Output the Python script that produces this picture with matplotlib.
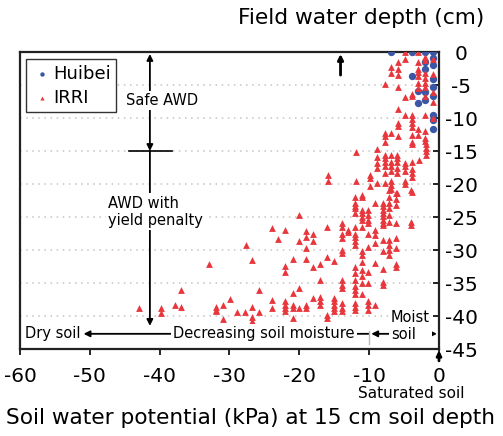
import numpy as np
import matplotlib
matplotlib.use("Agg")
import matplotlib.pyplot as plt

plt.rcParams['axes.unicode_minus'] = False

# Huibei field data (soil water potential kPa, field water depth cm)
huibei_x = [-6.9, -3.8, -2.0, -0.9, -0.9, -2.0, -0.9, -2.0, -3.8, -0.9,
            -0.9, -3.0, -2.0, -0.9, -2.0, -3.0, -0.9, -0.9, -0.9]
huibei_y = [0.0, 0.0, 0.0, 0.0, -0.9, -1.5, -2.0, -2.6, -3.6, -4.1,
            -5.3, -5.9, -6.0, -6.6, -7.2, -7.7, -9.5, -10.3, -11.6]

# IRRI data
irri_pts = [
    # shallow water, moist soil
    (-4.9, 0), (-4.9, -1.0), (-3.0, 0), (-2.0, -0.7), (-2.0, -1.2), (-0.9, -1.0),
    (-5.9, -1.5), (-6.9, -2.3), (-5.9, -2.5), (-6.9, -3.2), (-5.9, -3.5), (-3.0, -1.5),
    (-3.0, -2.5), (-3.0, -3.0), (-2.0, -3.2), (-2.0, -4.0), (-3.0, -3.7), (-0.9, -3.3),
    (-7.8, -4.8), (-5.9, -5.3), (-3.0, -4.7), (-2.0, -4.7), (-2.0, -5.3), (-4.9, -6.8),
    (-3.8, -6.3), (-3.8, -6.6), (-3.0, -5.4), (-0.9, -6.0), (-0.9, -7.5), (-2.0, -6.6),
    (-5.9, -8.7), (-4.9, -9.6), (-3.8, -9.5), (-3.8, -10.1), (-2.0, -9.5), (-0.9, -10.0),
    (-5.9, -10.8), (-5.9, -11.2), (-3.8, -10.8), (-3.8, -11.3), (-3.0, -11.6), (-7.8, -12.3),
    (-7.8, -12.8), (-6.9, -12.3), (-5.9, -12.7), (-3.8, -12.6), (-3.0, -12.6), (-2.0, -12.0),
    (-7.8, -13.6), (-3.8, -13.6), (-3.8, -14.0), (-2.0, -13.0), (-2.0, -13.5),
    # -14 to -21 cm
    (-15.9, -18.6), (-15.9, -19.5), (-11.9, -15.2), (-11.9, -19.5), (-9.9, -18.6),
    (-9.9, -19.1), (-9.9, -20.3), (-8.9, -14.7), (-8.9, -15.9), (-8.9, -16.8), (-8.9, -17.6),
    (-8.9, -19.9), (-7.8, -15.6), (-7.8, -16.1), (-7.8, -16.6), (-7.8, -17.3), (-7.8, -18.3),
    (-7.8, -19.8), (-6.9, -15.6), (-6.9, -16.6), (-6.9, -17.3), (-6.9, -18.1), (-6.9, -19.6),
    (-6.9, -20.2), (-6.9, -20.7), (-6.0, -15.6), (-6.0, -16.1), (-6.0, -16.6), (-6.0, -17.6),
    (-6.0, -18.4), (-6.0, -21.4), (-4.9, -16.8), (-4.9, -17.3), (-4.9, -18.1), (-4.9, -19.5),
    (-4.9, -20.0), (-3.8, -16.6), (-3.8, -17.8), (-3.8, -18.3), (-3.8, -18.9), (-3.8, -21.2),
    (-2.9, -16.3), (-1.9, -14.0), (-1.9, -14.5), (-1.9, -15.0), (-1.9, -15.6),
    # -21 to -41 cm
    (-20.0, -24.7), (-23.9, -26.6), (-22.1, -26.9), (-23.0, -28.4), (-20.0, -28.6),
    (-19.0, -27.1), (-19.0, -28.0), (-19.0, -29.7), (-19.0, -31.3), (-18.1, -27.5),
    (-18.1, -28.7), (-16.1, -26.5), (-20.9, -31.4), (-22.1, -32.4), (-22.1, -33.3),
    (-18.1, -32.5), (-17.1, -32.1), (-16.1, -31.1), (-15.0, -31.6), (-17.1, -34.6),
    (-20.9, -36.5), (-20.0, -35.8), (-23.9, -37.6), (-23.9, -38.8), (-22.1, -37.8),
    (-22.1, -38.3), (-22.1, -38.8), (-22.1, -39.3), (-20.9, -38.3), (-20.9, -38.8),
    (-20.9, -40.3), (-20.0, -38.8), (-19.0, -38.3), (-19.0, -38.8), (-18.1, -37.2),
    (-17.1, -37.1), (-17.1, -37.8), (-17.1, -38.3), (-16.1, -39.8), (-16.1, -40.3),
    (-15.0, -37.3), (-15.0, -37.8), (-15.0, -38.3), (-15.0, -38.8), (-15.0, -39.3),
    (-13.9, -38.1), (-13.9, -38.8), (-13.9, -39.3), (-13.9, -25.9), (-13.9, -26.5),
    (-13.9, -27.5), (-13.9, -28.2), (-13.0, -26.9), (-13.0, -27.2), (-13.9, -30.0),
    (-13.9, -30.5), (-13.9, -34.5), (-13.9, -35.3), (-13.9, -35.8), (-12.1, -21.9),
    (-12.1, -22.9), (-12.1, -23.4), (-12.1, -23.7), (-12.1, -24.4), (-12.1, -26.5),
    (-12.1, -27.5), (-12.1, -28.0), (-12.1, -28.7), (-12.1, -29.2), (-12.1, -32.5),
    (-12.1, -33.5), (-12.1, -34.5), (-12.1, -35.5), (-12.1, -36.0), (-12.1, -36.6),
    (-12.1, -38.1), (-12.1, -38.6), (-12.1, -39.1), (-11.0, -21.7), (-11.0, -21.9),
    (-11.0, -23.9), (-11.0, -24.4), (-11.0, -26.5), (-11.0, -30.2), (-11.0, -30.7),
    (-11.0, -31.8), (-11.0, -33.0), (-11.0, -34.0), (-11.0, -35.0), (-11.0, -36.7),
    (-10.1, -23.9), (-10.1, -24.7), (-10.1, -25.4), (-10.1, -25.9), (-10.1, -27.5),
    (-10.1, -29.5), (-10.1, -33.3), (-10.1, -35.0), (-10.1, -37.8), (-10.1, -38.3),
    (-10.1, -39.1), (-9.1, -22.9), (-9.1, -26.9), (-9.1, -27.7), (-9.1, -29.0),
    (-9.1, -32.0), (-9.1, -38.3), (-8.0, -22.9), (-8.0, -23.4), (-8.0, -23.9),
    (-8.0, -24.4), (-8.0, -24.9), (-8.0, -25.4), (-8.0, -25.9), (-8.0, -26.2),
    (-8.0, -28.5), (-8.0, -30.2), (-8.0, -32.9), (-8.0, -34.8), (-8.0, -35.3),
    (-7.1, -20.9), (-7.1, -21.9), (-7.1, -22.9), (-7.1, -23.7), (-7.1, -24.7),
    (-7.1, -25.7), (-7.1, -28.5), (-7.1, -29.2), (-7.1, -30.0), (-7.1, -30.8),
    (-6.1, -21.4), (-6.1, -22.2), (-6.1, -23.2), (-6.1, -25.9), (-6.1, -28.2),
    (-6.1, -29.7), (-6.1, -32.1), (-6.1, -32.6), (-4.0, -20.9), (-4.0, -25.7),
    (-4.0, -26.2), (-11.0, -25.0), (-11.0, -25.5),
    # dry soil
    (-27.7, -29.3), (-32.9, -32.1), (-26.8, -31.5), (-36.9, -36.1), (-25.8, -36.1),
    (-29.9, -37.4), (-42.9, -38.8), (-39.8, -38.8), (-39.8, -39.5), (-37.8, -38.4),
    (-36.9, -38.7), (-31.9, -38.7), (-31.9, -39.1), (-31.9, -39.3), (-30.9, -38.3),
    (-30.9, -40.4), (-28.9, -39.4), (-27.8, -39.4), (-26.8, -38.7), (-26.8, -40.1),
    (-26.8, -40.8), (-25.8, -39.4),
]
irri_x = [p[0] for p in irri_pts]
irri_y = [p[1] for p in irri_pts]

xticks = [-60, -50, -40, -30, -20, -10, 0]
yticks = [0, -5, -10, -15, -20, -25, -30, -35, -40, -45]

fig = plt.figure(figsize=(5.03, 4.36), dpi=100)
ax = fig.add_axes([20 / 503, 1 - 349 / 436, 419 / 503, 297 / 436])

ax.scatter(huibei_x, huibei_y, s=28, marker='o', color='#3a56a5', linewidths=0,
           label='Huibei', zorder=3)
ax.scatter(irri_x, irri_y, s=24, marker='^', color='#e8373c', linewidths=0,
           label='IRRI', zorder=3)

ax.set_xlim(-60, 0)
ax.set_ylim(-45, 0)
ax.set_xticks(xticks)
ax.set_yticks(yticks)
ax.yaxis.tick_right()
ax.tick_params(axis='x', direction='out', length=4, width=1.2, labelsize=14.5, pad=9)
ax.tick_params(axis='y', direction='in', length=4, width=1.2, labelsize=14.5, pad=16)
plt.setp(ax.get_yticklabels(), ha='center')
ax.grid(axis='y', color='#c4c4c4', linestyle=(0, (1, 3)), linewidth=1.1, zorder=0)
for s in ax.spines.values():
    s.set_linewidth(1.6)
    s.set_color('#222222')

ax.set_xlabel('Soil water potential (kPa) at 15 cm soil depth', fontsize=15.6, va='center')
ax.xaxis.set_label_coords(0.551, -0.232)
ax.yaxis.set_label_position('right')
ax.set_ylabel('Field water depth (cm)', fontsize=15.7, rotation=0, ha='center', va='center')
ax.yaxis.set_label_coords(0.814, 1.114)

leg = ax.legend(loc='upper left', bbox_to_anchor=(0.0143, 0.976), borderaxespad=0,
                fontsize=13, markerscale=0.6, fancybox=False, framealpha=1,
                edgecolor='#333333', handletextpad=0.0, labelspacing=0.35,
                borderpad=0.3, handlelength=1.2)
leg.get_frame().set_linewidth(1.0)

arr = dict(arrowstyle='-|>', color='black', lw=1.3, mutation_scale=9, shrinkA=0, shrinkB=0)
arr2 = dict(arrowstyle='<|-|>', color='black', lw=1.3, mutation_scale=9, shrinkA=0, shrinkB=0)
white = dict(facecolor='white', edgecolor='none', pad=1.5)

# safe AWD
ax.annotate('', xy=(-41.4, -0.3), xytext=(-41.4, -15), arrowprops=arr2, zorder=4)
ax.plot([-44.4, -38.3], [-15, -15], color='black', lw=1.2, zorder=4)
ax.text(-39.6, -7.3, 'Safe AWD', fontsize=10.5, ha='center', va='center', bbox=white, zorder=5)
# AWD with yield penalty
ax.annotate('', xy=(-41.4, -41.5), xytext=(-41.4, -15), arrowprops=arr, zorder=4)
ax.text(-47.4, -24.2, 'AWD with\nyield penalty', fontsize=10.5, ha='left', va='center',
        bbox=white, zorder=5)

# soil moisture arrows
ax.annotate('', xy=(-50.9, -42.7), xytext=(-10, -42.7), arrowprops=arr, zorder=4)
ax.text(-59.3, -42.7, 'Dry soil', fontsize=10.5, ha='left', va='center', zorder=5)
ax.text(-25.1, -42.7, 'Decreasing soil moisture', fontsize=10.5, ha='center', va='center',
        bbox=white, zorder=5)
ax.plot([-10, -10], [-42.2, -44.2], color='#bbbbbb', lw=1.0, zorder=4)
ax.annotate('', xy=(-9.7, -42.7), xytext=(-0.3, -42.7), arrowprops=arr2, zorder=4)
ax.text(-6.9, -41.5, 'Moist\nsoil', fontsize=10.5, ha='left', va='center',
        bbox=white, zorder=5, linespacing=1.1)

# small markers on the axes
ax.annotate('', xy=(-14.1, -0.3), xytext=(-14.1, -3.5),
            arrowprops=dict(arrowstyle='-|>', color='black', lw=2, mutation_scale=8,
                            shrinkA=0, shrinkB=0), zorder=4)
ax.annotate('', xy=(0, -45.2), xytext=(0, -46.8), annotation_clip=False,
            arrowprops=dict(arrowstyle='-|>', color='black', lw=2, mutation_scale=7,
                            shrinkA=0, shrinkB=0))
ax.text(-4.0, -51.7, 'Saturated soil', fontsize=11, ha='center', va='center', clip_on=False)

fig.savefig('out.png', dpi=100)
